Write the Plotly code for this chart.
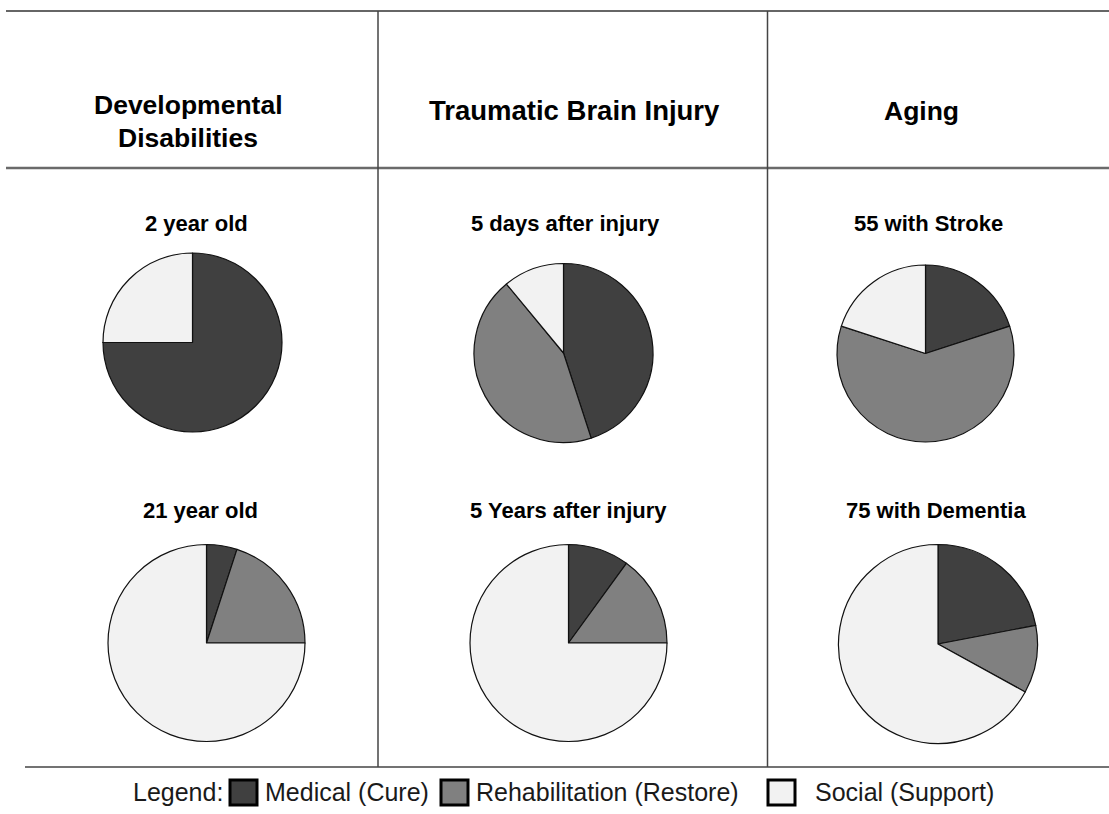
import plotly.graph_objects as go

W, H = 1109, 814

# ---- data ----
columns = ["Developmental<br>Disabilities", "Traumatic Brain Injury", "Aging"]
chart_titles = ["2 year old", "5 days after injury", "55 with Stroke",
                "21 year old", "5 Years after injury", "75 with Dementia"]
categories = ["Medical (Cure)", "Rehabilitation (Restore)", "Social (Support)"]
medical = [75, 45, 20, 5, 10, 22]
rehabilitation = [0, 44, 60, 20, 15, 11]
social = [25, 11, 20, 75, 75, 67]
colors = ["#404040", "#808080", "#f2f2f2"]

# ---- layout geometry (pixels) ----
pie_geom = [  # cx, cy, r
    (192.5, 342.5, 89.5),
    (563.5, 353.0, 89.5),
    (925.5, 353.5, 88.5),
    (206.5, 643.0, 98.5),
    (568.5, 643.0, 98.5),
    (938.0, 644.0, 99.5),
]
title_pos = [(196, 223), (565, 223), (928, 223),
             (200, 511), (568, 511), (936, 511)]


def px(x):
    return x / W


def py(y):
    return 1 - y / H


fig = go.Figure()

for i, (cx, cy, r) in enumerate(pie_geom):
    vals = [medical[i], rehabilitation[i], social[i]]
    fig.add_trace(go.Pie(
        labels=categories, values=vals, sort=False, direction="clockwise",
        rotation=0, textinfo="none", hoverinfo="label+percent",
        marker=dict(colors=colors, line=dict(color="#111111", width=1.2)),
        domain=dict(x=[px(cx - r), px(cx + r)], y=[py(cy + r), py(cy - r)]),
        showlegend=False,
    ))

shapes = []
line_col = "#444444"
# top line
shapes.append(dict(type="line", xref="paper", yref="paper", x0=px(6), x1=px(1109), y0=py(11), y1=py(11),
                   line=dict(color="#333333", width=1.5)))
# header separator
shapes.append(dict(type="line", xref="paper", yref="paper", x0=px(6), x1=px(1109), y0=py(168), y1=py(168),
                   line=dict(color="#6a6a6a", width=2.5)))
# bottom line
shapes.append(dict(type="line", xref="paper", yref="paper", x0=px(25), x1=px(1109), y0=py(767), y1=py(767),
                   line=dict(color=line_col, width=1.5)))
# verticals
for vx in (378, 767.5):
    shapes.append(dict(type="line", xref="paper", yref="paper", x0=px(vx), x1=px(vx), y0=py(11), y1=py(767),
                       line=dict(color=line_col, width=1.5)))

annotations = []
hfont = dict(family="Liberation Sans, Arial, sans-serif", size=26.5, color="#000000")
annotations.append(dict(text="<b>Developmental</b>", x=px(188), y=py(105), xref="paper", yref="paper",
                        showarrow=False, xanchor="center", yanchor="middle", font=hfont))
annotations.append(dict(text="<b>Disabilities</b>", x=px(188), y=py(138), xref="paper", yref="paper",
                        showarrow=False, xanchor="center", yanchor="middle", font=hfont))
annotations.append(dict(text="<b>" + columns[1] + "</b>", x=px(574), y=py(111), xref="paper", yref="paper",
                        showarrow=False, xanchor="center", yanchor="middle",
                        font=dict(family="Liberation Sans, Arial, sans-serif", size=27.5, color="#000000")))
annotations.append(dict(text="<b>" + columns[2] + "</b>", x=px(921), y=py(111), xref="paper", yref="paper",
                        showarrow=False, xanchor="center", yanchor="middle", font=hfont))

sfont = dict(family="Liberation Sans, Arial, sans-serif", size=22, color="#000000")
for t, (tx, ty) in zip(chart_titles, title_pos):
    annotations.append(dict(text="<b>" + t + "</b>", x=px(tx), y=py(ty), xref="paper", yref="paper",
                            showarrow=False, xanchor="center", yanchor="middle", font=sfont))

# legend (manual)
lfont = dict(family="Liberation Sans, Arial, sans-serif", size=25, color="#1a1a1a")
leg_y = 792
annotations.append(dict(text="Legend:", x=px(131), y=py(leg_y), xref="paper", yref="paper",
                        showarrow=False, xanchor="left", yanchor="middle", font=lfont))
sq_x = [230, 441, 768]
txt_x = [263, 474, 813]
for c, sx, tx, lab in zip(colors, sq_x, txt_x, categories):
    shapes.append(dict(type="rect", xref="paper", yref="paper", x0=px(sx), x1=px(sx + 27),
                       y0=py(leg_y + 13), y1=py(leg_y - 12), fillcolor=c,
                       line=dict(color="#000000", width=3)))
    annotations.append(dict(text=lab, x=px(tx), y=py(leg_y), xref="paper", yref="paper",
                            showarrow=False, xanchor="left", yanchor="middle", font=lfont))

fig.update_layout(
    width=W, height=H, autosize=False,
    margin=dict(l=0, r=0, t=0, b=0),
    paper_bgcolor="#ffffff", plot_bgcolor="#ffffff",
    shapes=shapes, annotations=annotations,
    showlegend=False,
)

fig.write_html("out.html", config={"displayModeBar": False},
               post_script="document.body.style.margin='0';document.body.style.overflow='hidden';")
